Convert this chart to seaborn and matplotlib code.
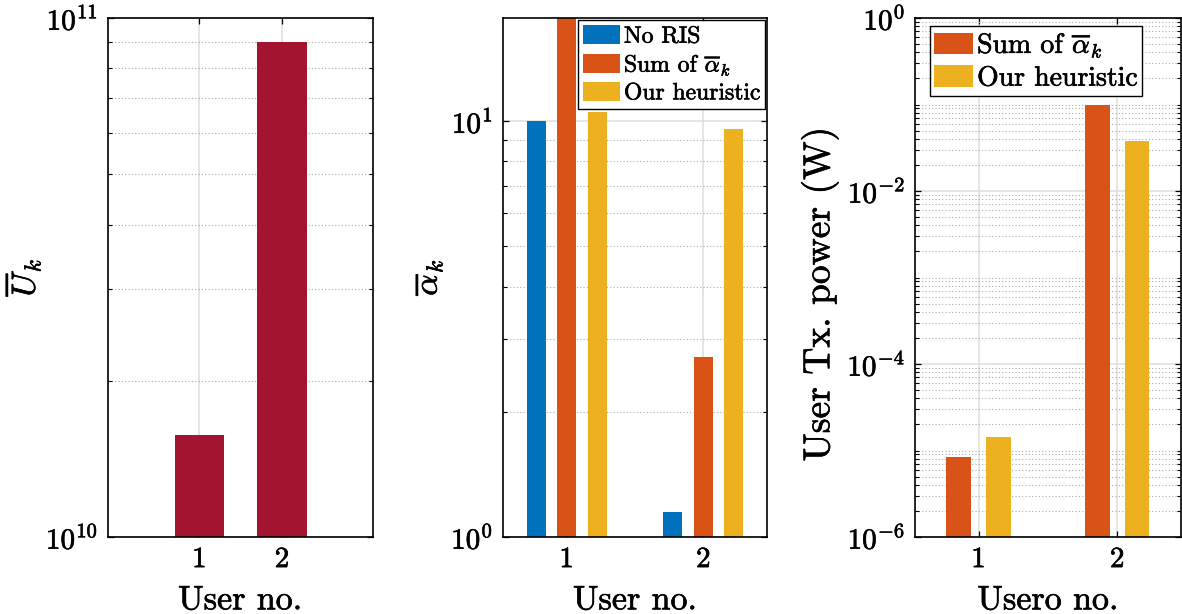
import numpy as np
import pandas as pd
import matplotlib
matplotlib.use("Agg")
import matplotlib.pyplot as plt
import matplotlib.patheffects as pe
from matplotlib.text import Text
import seaborn as sns
from matplotlib.ticker import LogLocator, NullFormatter, FixedLocator, LogFormatterSciNotation

# ---------------- data ----------------
users = ["1", "2"]
u_bar = [1.57e10, 9.0e10]

series2 = ["No RIS", r"Sum of $\overline{\alpha}_k$", "Our heuristic"]
alpha_no_ris = [10.0, 1.15]
alpha_sum = [20.0, 2.71]      # user 1 exceeds the axis top
alpha_heur = [10.5, 9.56]

series3 = [r"Sum of $\overline{\alpha}_k$", "Our heuristic"]
p_sum = [8.5e-6, 0.0997]
p_heur = [1.42e-5, 0.0376]

c_red = "#A2142F"
c_blue = "#0072BD"
c_orange = "#D95319"
c_yellow = "#EDB120"

plt.rcParams.update({
    "font.family": ["cmr10", "DejaVu Serif"],
    "mathtext.fontset": "cm",
    "axes.formatter.use_mathtext": True,
})

df1 = pd.DataFrame({"user": users, "value": u_bar})
df2 = pd.DataFrame({
    "user": users * 3,
    "value": alpha_no_ris + alpha_sum + alpha_heur,
    "series": [series2[0]] * 2 + [series2[1]] * 2 + [series2[2]] * 2,
})
df3 = pd.DataFrame({
    "user": users * 2,
    "value": p_sum + p_heur,
    "series": [series3[0]] * 2 + [series3[1]] * 2,
})

fig = plt.figure(figsize=(11.82, 6.14), dpi=100)
W, H = 1182.0, 614.0
bot = 1 - 537 / H
hgt = 519 / H
ax1 = fig.add_axes([107.7 / W, bot, 265 / W, hgt])
ax2 = fig.add_axes([502.7 / W, bot, 264.6 / W, hgt])
ax3 = fig.add_axes([915 / W, bot, 266 / W, hgt])

for ax in (ax1, ax2, ax3):
    ax.set_yscale("log")


def style(ax):
    for s in ax.spines.values():
        s.set_linewidth(1.2)
        s.set_color("black")
    ax.tick_params(which="both", direction="in", top=True, right=True, colors="black")
    ax.tick_params(which="major", length=4.5, width=0.9, labelsize=21, pad=7)
    ax.tick_params(which="minor", length=2.8, width=0.8)
    ax.grid(True, which="major", color="#dedede", linewidth=1.1, linestyle="-")
    ax.grid(True, which="minor", axis="y", color="#ababab", linewidth=0.8, linestyle=(0, (1, 2)))
    ax.set_axisbelow(True)
    ax.yaxis.set_minor_formatter(NullFormatter())


# ---------- panel 1 ----------
sns.barplot(data=df1, x="user", y="value", color=c_red, width=0.6, saturation=1,
            errorbar=None, ax=ax1, edgecolor="none")
ax1.set_ylim(1e10, 1e11)
ax1.set_xlim(-1.108, 2.097)
ax1.yaxis.set_major_locator(FixedLocator([1e10, 1e11]))
ax1.yaxis.set_major_formatter(LogFormatterSciNotation())
ax1.yaxis.set_minor_locator(LogLocator(base=10, subs=np.arange(2, 10)))
style(ax1)
ax1.set_xlabel("User no.", fontsize=24.5)
ax1.set_ylabel(r"$\overline{U}_k$", fontsize=24)
ax1.xaxis.set_label_coords(0.5, -0.095)
ax1.yaxis.set_label_coords(-0.245, 0.5)

# ---------- panel 2 ----------
sns.barplot(data=df2, x="user", y="value", hue="series", hue_order=series2,
            palette=[c_blue, c_orange, c_yellow], width=0.667, gap=0.375,
            saturation=1, errorbar=None, ax=ax2, edgecolor="none")
ax2.set_ylim(1, 17.7)
ax2.set_xlim(-0.468, 1.468)
ax2.yaxis.set_major_locator(FixedLocator([1, 10]))
ax2.yaxis.set_major_formatter(LogFormatterSciNotation())
ax2.yaxis.set_minor_locator(LogLocator(base=10, subs=np.arange(2, 10)))
style(ax2)
ax2.set_xlabel("User no.", fontsize=24.5)
ax2.set_ylabel(r"$\overline{\alpha}_k$", fontsize=24)
ax2.xaxis.set_label_coords(0.5, -0.095)
ax2.yaxis.set_label_coords(-0.22, 0.5)
h2, l2 = ax2.get_legend_handles_labels()
leg2 = ax2.legend(h2, l2, loc="upper right", fontsize=17, frameon=True, fancybox=False,
                  edgecolor="black", framealpha=1, handlelength=1.6, handleheight=0.85,
                  handletextpad=0.15, borderpad=0.2, labelspacing=0.17, borderaxespad=0.1)
leg2.get_frame().set_linewidth(1.0)

# ---------- panel 3 ----------
sns.barplot(data=df3, x="user", y="value", hue="series", hue_order=series3,
            palette=[c_orange, c_yellow], width=0.571, gap=0.37,
            saturation=1, errorbar=None, ax=ax3, edgecolor="none")
ax3.set_ylim(1e-6, 1)
ax3.set_xlim(-0.458, 1.46)
ax3.yaxis.set_major_locator(FixedLocator([1e-6, 1e-4, 1e-2, 1]))
ax3.yaxis.set_major_formatter(LogFormatterSciNotation())
ax3.yaxis.set_minor_locator(LogLocator(base=10, subs=np.arange(1, 10), numticks=100))
style(ax3)
ax3.set_xlabel("Usero no.", fontsize=24.5)
ax3.set_ylabel("User Tx. power (W)", fontsize=27)
ax3.xaxis.set_label_coords(0.5, -0.095)
ax3.yaxis.set_label_coords(-0.285, 0.468)
h3, l3 = ax3.get_legend_handles_labels()
leg3 = ax3.legend(h3, l3, loc="upper left", bbox_to_anchor=(0.056, 0.985), fontsize=20,
                  frameon=True, fancybox=False, edgecolor="black", framealpha=1,
                  handlelength=1.4, handleheight=0.8, handletextpad=0.15, borderpad=0.15,
                  labelspacing=0.2, borderaxespad=0.0)
leg3.get_frame().set_linewidth(1.0)

# heavier text, like the LaTeX rendering in the reference
fig.canvas.draw()
for t in fig.findobj(Text):
    if t.get_text():
        t.set_path_effects([pe.withStroke(linewidth=0.45, foreground="black")])

fig.savefig("out.png", dpi=100)
